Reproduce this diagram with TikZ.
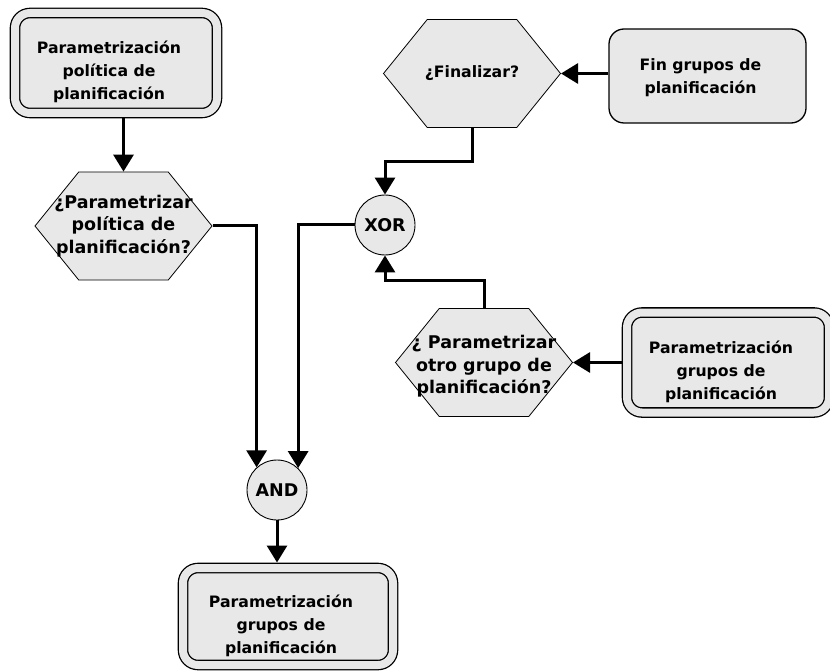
\documentclass[tikz,border=0pt]{standalone}
\usepackage{fontspec}
\setmainfont{DejaVu Sans}
\usepackage{tikz}
\usetikzlibrary{arrows.meta}
\usetikzlibrary{shapes.symbols}
\definecolor{boxgray}{RGB}{232,232,232}

\begin{document}
\begin{tikzpicture}[x=1pt, y=-1pt,
	boxtext/.style={align=center, font=\bfseries\fontsize{15.7}{23}\selectfont},
	inbox/.style={boxtext, xshift=-7pt, yshift=-9pt},
	hextext/.style={align=center, font=\bfseries\fontsize{17.5}{22.5}\selectfont},
	dblbox/.style={draw, rounded corners=15pt, line width=1.3pt, double=boxgray, double distance=8pt, fill=boxgray, minimum width=202pt, minimum height=100pt, outer sep=5.5pt},
	endbox/.style={draw, rounded corners=15pt, line width=1.3pt, fill=boxgray, minimum width=197pt, minimum height=94pt},
	hexa/.style={signal, signal to=west and east, signal pointer angle=102, draw, line width=0.8pt, fill=boxgray, minimum width=177pt, minimum height=108pt, inner sep=0pt},
	gate/.style={circle, draw, line width=0.9pt, fill=boxgray, minimum size=60pt, inner sep=0pt, font=\bfseries\fontsize{17.5}{20}\selectfont},
	conn/.style={line width=3pt, -{Triangle[length=17pt, width=20pt]}}]
	
	\useasboundingbox (0,0) rectangle (830,671);
	
	% left column
	\node[dblbox, label={[inbox]center:{Parametrización\\política de\\planificación}}] (pol) at (116,63) {};
	\node[hexa, label={[hextext]center:{¿Parametrizar\\política de\\planificación?}}] (qpol) at (123.5,226) {};
	
	% right column
	\node[hexa, label={[boxtext]center:{¿Finalizar?}}] (qfin) at (472,73.5) {};
	\node[endbox, label={[inbox, yshift=7pt]center:{Fin grupos de\\planificación}}] (fin) at (707.5,76) {};
	\node[gate] (xorgate) at (385,225) {XOR};
	\node[hexa, label={[hextext, yshift=-4pt]center:{¿ Parametrizar\\otro grupo de\\planificación?}}] (qgrp) at (484,362.5) {};
	\node[dblbox, label={[inbox]center:{Parametrización\\grupos de\\planificación}}] (grp) at (728,362.5) {};
	
	% join and result
	\node[gate] (andgate) at (277,490) {AND};
	\node[dblbox, minimum width=210pt, minimum height=97pt, label={[inbox]center:{Parametrización\\grupos de\\planificación}}] (res) at (288,616.5) {};
	
	% connectors
	\draw[conn] (qpol.north |- pol.south) -- (qpol.north);
	\draw[conn] (qpol.east) -| (andgate.132);
	\draw[conn] (xorgate.west) -| (andgate.46);
	\draw[conn] (qfin.east -| fin.west) -- (qfin.east);
	\draw[conn] (qfin.south) -- ++(0,34) -| (xorgate.north);
	\draw[conn] (grp.west) -- (qgrp.east);
	\draw[conn] (qgrp.north) -- ++(0,-28) -| (xorgate.south);
	\draw[conn] (andgate.south) -- (andgate.south |- res.north);
	
\end{tikzpicture}
\end{document}
